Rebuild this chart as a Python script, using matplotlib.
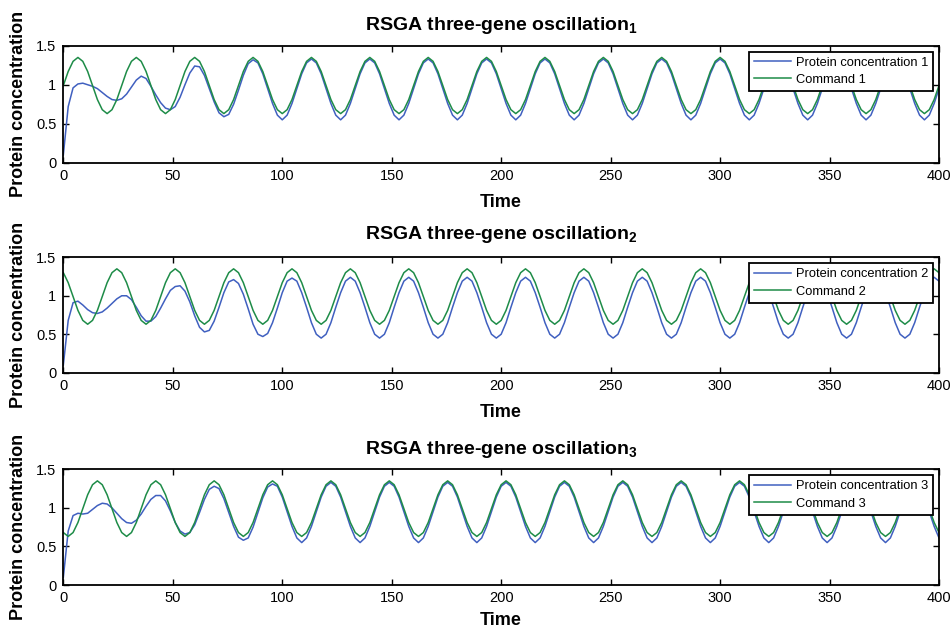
import numpy as np
import matplotlib
matplotlib.use("Agg")
import matplotlib.pyplot as plt

plt.rcParams['font.family'] = ['Liberation Sans', 'DejaVu Sans']
plt.rcParams['mathtext.fontset'] = 'custom'
plt.rcParams['mathtext.rm'] = 'Liberation Sans:bold'
plt.rcParams['mathtext.bf'] = 'Liberation Sans:bold'

# ---------------- data ----------------
time = np.linspace(0, 400, 181)

command_1 = [
    0.99, 1.17, 1.30, 1.35, 1.30, 1.17, 0.99, 0.81, 0.68, 0.63, 0.68, 0.81,
    0.99, 1.17, 1.30, 1.35, 1.30, 1.17, 0.99, 0.81, 0.68, 0.63, 0.68, 0.81,
    0.99, 1.17, 1.30, 1.35, 1.30, 1.17, 0.99, 0.81, 0.68, 0.63, 0.68, 0.81,
    0.99, 1.17, 1.30, 1.35, 1.30, 1.17, 0.99, 0.81, 0.68, 0.63, 0.68, 0.81,
    0.99, 1.17, 1.30, 1.35, 1.30, 1.17, 0.99, 0.81, 0.68, 0.63, 0.68, 0.81,
    0.99, 1.17, 1.30, 1.35, 1.30, 1.17, 0.99, 0.81, 0.68, 0.63, 0.68, 0.81,
    0.99, 1.17, 1.30, 1.35, 1.30, 1.17, 0.99, 0.81, 0.68, 0.63, 0.68, 0.81,
    0.99, 1.17, 1.30, 1.35, 1.30, 1.17, 0.99, 0.81, 0.68, 0.63, 0.68, 0.81,
    0.99, 1.17, 1.30, 1.35, 1.30, 1.17, 0.99, 0.81, 0.68, 0.63, 0.68, 0.81,
    0.99, 1.17, 1.30, 1.35, 1.30, 1.17, 0.99, 0.81, 0.68, 0.63, 0.68, 0.81,
    0.99, 1.17, 1.30, 1.35, 1.30, 1.17, 0.99, 0.81, 0.68, 0.63, 0.68, 0.81,
    0.99, 1.17, 1.30, 1.35, 1.30, 1.17, 0.99, 0.81, 0.68, 0.63, 0.68, 0.81,
    0.99, 1.17, 1.30, 1.35, 1.30, 1.17, 0.99, 0.81, 0.68, 0.63, 0.68, 0.81,
    0.99, 1.17, 1.30, 1.35, 1.30, 1.17, 0.99, 0.81, 0.68, 0.63, 0.68, 0.81,
    0.99, 1.17, 1.30, 1.35, 1.30, 1.17, 0.99, 0.81, 0.68, 0.63, 0.68, 0.81,
    0.99,
]

command_2 = [
    1.30, 1.17, 0.99, 0.81, 0.68, 0.63, 0.68, 0.81, 0.99, 1.17, 1.30, 1.35,
    1.30, 1.17, 0.99, 0.81, 0.68, 0.63, 0.68, 0.81, 0.99, 1.17, 1.30, 1.35,
    1.30, 1.17, 0.99, 0.81, 0.68, 0.63, 0.68, 0.81, 0.99, 1.17, 1.30, 1.35,
    1.30, 1.17, 0.99, 0.81, 0.68, 0.63, 0.68, 0.81, 0.99, 1.17, 1.30, 1.35,
    1.30, 1.17, 0.99, 0.81, 0.68, 0.63, 0.68, 0.81, 0.99, 1.17, 1.30, 1.35,
    1.30, 1.17, 0.99, 0.81, 0.68, 0.63, 0.68, 0.81, 0.99, 1.17, 1.30, 1.35,
    1.30, 1.17, 0.99, 0.81, 0.68, 0.63, 0.68, 0.81, 0.99, 1.17, 1.30, 1.35,
    1.30, 1.17, 0.99, 0.81, 0.68, 0.63, 0.68, 0.81, 0.99, 1.17, 1.30, 1.35,
    1.30, 1.17, 0.99, 0.81, 0.68, 0.63, 0.68, 0.81, 0.99, 1.17, 1.30, 1.35,
    1.30, 1.17, 0.99, 0.81, 0.68, 0.63, 0.68, 0.81, 0.99, 1.17, 1.30, 1.35,
    1.30, 1.17, 0.99, 0.81, 0.68, 0.63, 0.68, 0.81, 0.99, 1.17, 1.30, 1.35,
    1.30, 1.17, 0.99, 0.81, 0.68, 0.63, 0.68, 0.81, 0.99, 1.17, 1.30, 1.35,
    1.30, 1.17, 0.99, 0.81, 0.68, 0.63, 0.68, 0.81, 0.99, 1.17, 1.30, 1.35,
    1.30, 1.17, 0.99, 0.81, 0.68, 0.63, 0.68, 0.81, 0.99, 1.17, 1.30, 1.35,
    1.30, 1.17, 0.99, 0.81, 0.68, 0.63, 0.68, 0.81, 0.99, 1.17, 1.30, 1.35,
    1.30,
]

command_3 = [
    0.68, 0.63, 0.68, 0.81, 0.99, 1.17, 1.30, 1.35, 1.30, 1.17, 0.99, 0.81,
    0.68, 0.63, 0.68, 0.81, 0.99, 1.17, 1.30, 1.35, 1.30, 1.17, 0.99, 0.81,
    0.68, 0.63, 0.68, 0.81, 0.99, 1.17, 1.30, 1.35, 1.30, 1.17, 0.99, 0.81,
    0.68, 0.63, 0.68, 0.81, 0.99, 1.17, 1.30, 1.35, 1.30, 1.17, 0.99, 0.81,
    0.68, 0.63, 0.68, 0.81, 0.99, 1.17, 1.30, 1.35, 1.30, 1.17, 0.99, 0.81,
    0.68, 0.63, 0.68, 0.81, 0.99, 1.17, 1.30, 1.35, 1.30, 1.17, 0.99, 0.81,
    0.68, 0.63, 0.68, 0.81, 0.99, 1.17, 1.30, 1.35, 1.30, 1.17, 0.99, 0.81,
    0.68, 0.63, 0.68, 0.81, 0.99, 1.17, 1.30, 1.35, 1.30, 1.17, 0.99, 0.81,
    0.68, 0.63, 0.68, 0.81, 0.99, 1.17, 1.30, 1.35, 1.30, 1.17, 0.99, 0.81,
    0.68, 0.63, 0.68, 0.81, 0.99, 1.17, 1.30, 1.35, 1.30, 1.17, 0.99, 0.81,
    0.68, 0.63, 0.68, 0.81, 0.99, 1.17, 1.30, 1.35, 1.30, 1.17, 0.99, 0.81,
    0.68, 0.63, 0.68, 0.81, 0.99, 1.17, 1.30, 1.35, 1.30, 1.17, 0.99, 0.81,
    0.68, 0.63, 0.68, 0.81, 0.99, 1.17, 1.30, 1.35, 1.30, 1.17, 0.99, 0.81,
    0.68, 0.63, 0.68, 0.81, 0.99, 1.17, 1.30, 1.35, 1.30, 1.17, 0.99, 0.81,
    0.68, 0.63, 0.68, 0.81, 0.99, 1.17, 1.30, 1.35, 1.30, 1.17, 0.99, 0.81,
    0.68,
]

protein_1 = [
    0.10, 0.72, 0.96, 1.01, 1.02, 1.00, 0.98, 0.95, 0.90, 0.85, 0.81, 0.80,
    0.82, 0.88, 0.97, 1.06, 1.11, 1.08, 0.98, 0.87, 0.77, 0.70, 0.68, 0.72,
    0.84, 1.00, 1.15, 1.24, 1.23, 1.12, 0.95, 0.78, 0.64, 0.59, 0.62, 0.75,
    0.93, 1.12, 1.27, 1.32, 1.28, 1.14, 0.95, 0.76, 0.61, 0.55, 0.61, 0.76,
    0.95, 1.14, 1.28, 1.33, 1.28, 1.14, 0.95, 0.76, 0.61, 0.55, 0.61, 0.76,
    0.95, 1.14, 1.28, 1.33, 1.28, 1.14, 0.95, 0.76, 0.61, 0.55, 0.61, 0.76,
    0.95, 1.14, 1.28, 1.33, 1.28, 1.14, 0.95, 0.76, 0.61, 0.55, 0.61, 0.76,
    0.95, 1.14, 1.28, 1.33, 1.28, 1.14, 0.95, 0.76, 0.61, 0.55, 0.61, 0.76,
    0.95, 1.14, 1.28, 1.33, 1.28, 1.14, 0.95, 0.76, 0.61, 0.55, 0.61, 0.76,
    0.95, 1.14, 1.28, 1.33, 1.28, 1.14, 0.95, 0.76, 0.61, 0.55, 0.61, 0.76,
    0.95, 1.14, 1.28, 1.33, 1.28, 1.14, 0.95, 0.76, 0.61, 0.55, 0.61, 0.76,
    0.95, 1.14, 1.28, 1.33, 1.28, 1.14, 0.95, 0.76, 0.61, 0.55, 0.61, 0.76,
    0.95, 1.14, 1.28, 1.33, 1.28, 1.14, 0.95, 0.76, 0.61, 0.55, 0.61, 0.76,
    0.95, 1.14, 1.28, 1.33, 1.28, 1.14, 0.95, 0.76, 0.61, 0.55, 0.61, 0.76,
    0.95, 1.14, 1.28, 1.33, 1.28, 1.14, 0.95, 0.76, 0.61, 0.55, 0.61, 0.76,
    0.95,
]

protein_2 = [
    0.10, 0.68, 0.91, 0.93, 0.88, 0.82, 0.78, 0.77, 0.79, 0.84, 0.90, 0.96,
    1.00, 1.00, 0.95, 0.85, 0.74, 0.67, 0.67, 0.73, 0.84, 0.96, 1.07, 1.12,
    1.13, 1.06, 0.92, 0.74, 0.59, 0.53, 0.55, 0.67, 0.85, 1.04, 1.18, 1.21,
    1.16, 1.02, 0.83, 0.63, 0.50, 0.47, 0.51, 0.65, 0.84, 1.04, 1.19, 1.23,
    1.19, 1.04, 0.85, 0.65, 0.50, 0.45, 0.50, 0.65, 0.85, 1.04, 1.19, 1.24,
    1.19, 1.04, 0.85, 0.65, 0.50, 0.45, 0.50, 0.65, 0.85, 1.04, 1.19, 1.24,
    1.19, 1.04, 0.85, 0.65, 0.50, 0.45, 0.50, 0.65, 0.85, 1.04, 1.19, 1.24,
    1.19, 1.04, 0.85, 0.65, 0.50, 0.45, 0.50, 0.65, 0.85, 1.04, 1.19, 1.24,
    1.19, 1.04, 0.85, 0.65, 0.50, 0.45, 0.50, 0.65, 0.85, 1.04, 1.19, 1.24,
    1.19, 1.04, 0.85, 0.65, 0.50, 0.45, 0.50, 0.65, 0.85, 1.04, 1.19, 1.24,
    1.19, 1.04, 0.85, 0.65, 0.50, 0.45, 0.50, 0.65, 0.85, 1.04, 1.19, 1.24,
    1.19, 1.04, 0.85, 0.65, 0.50, 0.45, 0.50, 0.65, 0.85, 1.04, 1.19, 1.24,
    1.19, 1.04, 0.85, 0.65, 0.50, 0.45, 0.50, 0.65, 0.85, 1.04, 1.19, 1.24,
    1.19, 1.04, 0.85, 0.65, 0.50, 0.45, 0.50, 0.65, 0.85, 1.04, 1.19, 1.24,
    1.19, 1.04, 0.85, 0.65, 0.50, 0.45, 0.50, 0.65, 0.85, 1.04, 1.19, 1.24,
    1.19,
]

protein_3 = [
    0.10, 0.70, 0.90, 0.93, 0.92, 0.93, 0.98, 1.03, 1.06, 1.05, 1.00, 0.93,
    0.86, 0.81, 0.80, 0.84, 0.92, 1.02, 1.11, 1.16, 1.16, 1.09, 0.96, 0.81,
    0.70, 0.66, 0.68, 0.78, 0.94, 1.11, 1.24, 1.28, 1.25, 1.12, 0.94, 0.76,
    0.62, 0.58, 0.61, 0.75, 0.94, 1.13, 1.27, 1.31, 1.28, 1.14, 0.95, 0.76,
    0.61, 0.55, 0.61, 0.76, 0.95, 1.14, 1.28, 1.33, 1.28, 1.14, 0.95, 0.76,
    0.61, 0.55, 0.61, 0.76, 0.95, 1.14, 1.28, 1.33, 1.28, 1.14, 0.95, 0.76,
    0.61, 0.55, 0.61, 0.76, 0.95, 1.14, 1.28, 1.33, 1.28, 1.14, 0.95, 0.76,
    0.61, 0.55, 0.61, 0.76, 0.95, 1.14, 1.28, 1.33, 1.28, 1.14, 0.95, 0.76,
    0.61, 0.55, 0.61, 0.76, 0.95, 1.14, 1.28, 1.33, 1.28, 1.14, 0.95, 0.76,
    0.61, 0.55, 0.61, 0.76, 0.95, 1.14, 1.28, 1.33, 1.28, 1.14, 0.95, 0.76,
    0.61, 0.55, 0.61, 0.76, 0.95, 1.14, 1.28, 1.33, 1.28, 1.14, 0.95, 0.76,
    0.61, 0.55, 0.61, 0.76, 0.95, 1.14, 1.28, 1.33, 1.28, 1.14, 0.95, 0.76,
    0.61, 0.55, 0.61, 0.76, 0.95, 1.14, 1.28, 1.33, 1.28, 1.14, 0.95, 0.76,
    0.61, 0.55, 0.61, 0.76, 0.95, 1.14, 1.28, 1.33, 1.28, 1.14, 0.95, 0.76,
    0.61, 0.55, 0.61, 0.76, 0.95, 1.14, 1.28, 1.33, 1.28, 1.14, 0.95, 0.76,
    0.61,
]

x_ticks = [0, 50, 100, 150, 200, 250, 300, 350, 400]
y_ticks = [0, 0.5, 1, 1.5]
y_tick_labels = ['0', '0.5', '1', '1.5']
subscripts = ['1', '2', '3']
proteins = [protein_1, protein_2, protein_3]
commands = [command_1, command_2, command_3]

# ---------------- figure ----------------
BLUE = '#4060C0'
GREEN = '#1E8C48'

fig = plt.figure(figsize=(9.51, 6.30), dpi=100)
positions = [
    [0.0666, 0.7417, 0.9208, 0.1857],
    [0.0666, 0.4084, 0.9208, 0.1832],
    [0.0666, 0.0714, 0.9208, 0.1837],
]
xlabel_pads = [8, 8, 4.5]
title_pads = [11.5, 13, 11]

for i in range(3):
    ax = fig.add_axes(positions[i])
    ax.plot(time, proteins[i], color=BLUE, lw=1.1,
            label='Protein concentration %s' % subscripts[i])
    ax.plot(time, commands[i], color=GREEN, lw=1.1,
            label='Command %s' % subscripts[i])
    ax.set_xlim(0, 400)
    ax.set_ylim(0, 1.5)
    ax.set_xticks(x_ticks)
    ax.set_yticks(y_ticks)
    ax.set_yticklabels(y_tick_labels)
    ax.tick_params(direction='in', top=True, right=True, length=4.5,
                   width=1.0, labelsize=10.5, colors='black')
    ax.tick_params(axis='x', pad=4.5)
    ax.tick_params(axis='y', pad=5)
    for sp in ax.spines.values():
        sp.set_linewidth(1.3)
    ax.set_title(r'RSGA three-gene oscillation$_{\mathbf{%s}}$' % subscripts[i],
                 fontsize=14, fontweight='bold', pad=title_pads[i])
    ax.set_xlabel('Time', fontsize=13, fontweight='bold',
                  labelpad=xlabel_pads[i])
    ax.set_ylabel('Protein concentration', fontsize=13, fontweight='bold')
    ax.yaxis.set_label_coords(-0.041, 0.5)
    leg = ax.legend(loc='upper right', fontsize=9.3, frameon=True,
                    fancybox=False, edgecolor='black', framealpha=1,
                    borderaxespad=0.45, handlelength=2.9, handletextpad=0.35,
                    labelspacing=0.4, borderpad=0.4)
    leg.get_frame().set_linewidth(1.3)

fig.savefig('out.png', dpi=100)
